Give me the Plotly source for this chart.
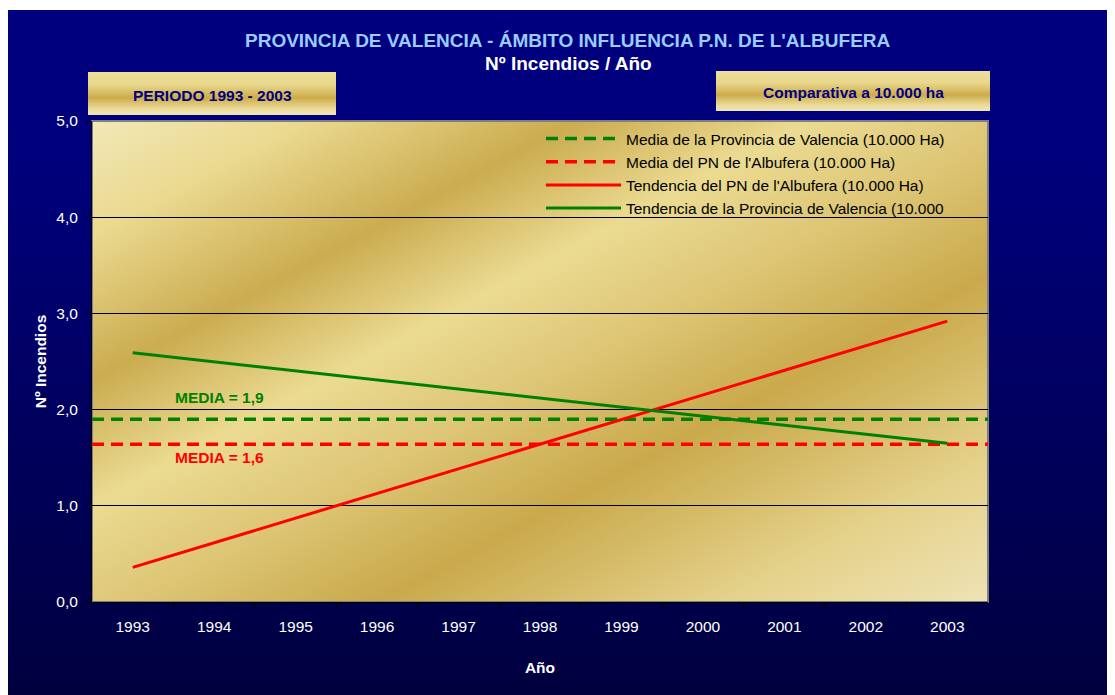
import base64
import plotly.graph_objects as go

# ---------------- data ----------------
years = [1993, 1994, 1995, 1996, 1997, 1998, 1999, 2000, 2001, 2002, 2003]
year_labels = [str(y) for y in years]
media_prov = 1.90          # Media de la Provincia de Valencia (10.000 Ha)
media_pn = 1.64            # Media del PN de l'Albufera (10.000 Ha)
trend_years = [1993, 2003]
trend_pn = [0.36, 2.92]    # Tendencia del PN de l'Albufera
trend_prov = [2.59, 1.65]  # Tendencia de la Provincia de Valencia
y_ticks = [0, 1, 2, 3, 4, 5]

names = ["Media de la Provincia de Valencia (10.000 Ha)",
         "Media del PN de l'Albufera (10.000 Ha)",
         "Tendencia del PN de l'Albufera (10.000 Ha)",
         "Tendencia de la Provincia de Valencia (10.000"]

GREEN = "#008000"
RED = "#FF0000"
FONT = "Liberation Sans, Arial, sans-serif"
FS = 15.5

OFF = 8  # page body margin offset
W, H = 1115, 695
L, T = 92 - OFF, 121 - OFF
PW, PH = 896, 481
R, B = W - L - PW, H - T - PH


def px_to_paper(x, y):
    """reference-screenshot pixel -> paper coords"""
    x, y = x - OFF, y - OFF
    return (x - L) / PW, (T + PH - y) / PH


def svg_uri(svg):
    return "data:image/svg+xml;base64," + base64.b64encode(svg.encode()).decode()


def grad_svg(stops, x1, y1, x2, y2):
    st = "".join(f'<stop offset="{o}" stop-color="{c}"/>' for o, c in stops)
    return svg_uri(
        '<svg xmlns="http://www.w3.org/2000/svg" width="100" height="100" '
        'viewBox="0 0 100 100" preserveAspectRatio="none">'
        f'<defs><linearGradient id="g" x1="{x1}" y1="{y1}" x2="{x2}" y2="{y2}">{st}</linearGradient></defs>'
        '<rect x="0" y="0" width="100" height="100" fill="url(#g)"/></svg>')


plot_stops = [(0, "#F2E8B8"), (0.12, "#EAD98F"), (0.27, "#CBAC50"), (0.40, "#EBDB92"),
              (0.53, "#DCC473"), (0.66, "#C9A94B"), (0.85, "#E4D18A"), (1, "#EFE3B5")]
box_stops = [(0, "#EEDF9C"), (0.3, "#E8D68A"), (0.6, "#CDAC4A"), (0.85, "#EBDA98"),
             (1, "#F0E6B8")]
navy_stops = [(0, "#000080"), (0.22, "#00007C"), (1, "#00003E")]


def img(source, x0, y0, x1, y1):
    px0, py0 = px_to_paper(x0, y0)
    px1, py1 = px_to_paper(x1, y1)
    return dict(source=source, xref="paper", yref="paper", x=px0, y=py0,
                sizex=px1 - px0, sizey=py0 - py1, sizing="stretch",
                xanchor="left", yanchor="top", layer="below")


def paper_text(x, y, text, color, size):
    px, py = px_to_paper(x, y)
    fig.add_annotation(xref="paper", yref="paper", x=px, y=py, text=text, showarrow=False,
                       xanchor="center", yanchor="middle",
                       font=dict(color=color, size=size, family=FONT))


x_lo, x_hi = years[0] - 0.5, years[-1] + 0.5

fig = go.Figure()
fig.add_trace(go.Scatter(x=[x_lo, x_hi], y=[media_prov, media_prov], mode="lines",
                         name=names[0], line=dict(color=GREEN, width=3.5, dash="12px,7px")))
fig.add_trace(go.Scatter(x=[x_lo, x_hi], y=[media_pn, media_pn], mode="lines",
                         name=names[1], line=dict(color=RED, width=3.5, dash="12px,7px")))
fig.add_trace(go.Scatter(x=trend_years, y=trend_pn, mode="lines", name=names[2],
                         line=dict(color=RED, width=3)))
fig.add_trace(go.Scatter(x=trend_years, y=trend_prov, mode="lines", name=names[3],
                         line=dict(color=GREEN, width=3)))

fmt = lambda v: f"{v:.1f}".replace(".", ",")
fig.add_annotation(x=years[1] + 0.06, y=media_prov + 0.23, text=f"<b>MEDIA = {fmt(media_prov)}</b>",
                   showarrow=False, xanchor="center", yanchor="middle",
                   font=dict(color=GREEN, size=FS, family=FONT))
fig.add_annotation(x=years[1] + 0.06, y=media_pn - 0.14, text=f"<b>MEDIA = {fmt(media_pn)}</b>",
                   showarrow=False, xanchor="center", yanchor="middle",
                   font=dict(color=RED, size=FS, family=FONT))

paper_text(212, 95, "<b>PERIODO 1993 - 2003</b>", "#000080", FS)
paper_text(853, 92, "<b>Comparativa a 10.000 ha</b>", "#000080", FS)
paper_text(568, 40, "<b>PROVINCIA DE VALENCIA - ÁMBITO INFLUENCIA P.N. DE L'ALBUFERA</b>", "#99CCFF", 19)
paper_text(568, 63, "<b>Nº Incendios / Año</b>", "white", 19)

images = [
    img(grad_svg(navy_stops, 0, 0, 0, 1), OFF, 10, W + OFF, H + OFF),
    img(grad_svg(plot_stops, 0, 0, 1, 1), 92, 121, 92 + PW, 121 + PH),
    img(grad_svg(box_stops, 0, 0, 0, 1), 88, 72, 336, 115),
    img(grad_svg(box_stops, 0, 0, 0, 1), 716, 71, 990, 111),
]

fig.add_shape(type="rect", xref="paper", yref="paper", x0=0, y0=0, x1=1, y1=1,
              line=dict(color="#7F7F7F", width=2), layer="below")

lx, ly = px_to_paper(541, 122)
fig.update_layout(
    width=W, height=H,
    margin=dict(l=L, r=R, t=T, b=B, pad=0),
    paper_bgcolor="white",
    plot_bgcolor="rgba(0,0,0,0)",
    images=images,
    separators=",.",
    showlegend=True,
    legend=dict(x=lx, y=ly, xanchor="left", yanchor="top", bgcolor="rgba(0,0,0,0)",
                font=dict(color="black", size=FS, family=FONT), itemwidth=75,
                tracegroupgap=0),
    xaxis=dict(range=[x_lo, x_hi], tickmode="array", tickvals=years, ticktext=year_labels,
               ticks="", showgrid=False, zeroline=False, showline=True, linecolor="black",
               linewidth=1, tickfont=dict(color="white", size=FS, family=FONT),
               ticklabelstandoff=10,
               minor=dict(tickvals=[y + 0.5 for y in years[:-1]], ticks="outside",
                          ticklen=5, tickcolor="black", showgrid=False),
               title=dict(text="<b>Año</b>", font=dict(color="white", size=FS, family=FONT),
                          standoff=28)),
    yaxis=dict(range=[0, 5], tickmode="array", tickvals=y_ticks, tickformat=".1f",
               ticks="outside", ticklen=5, tickcolor="black", ticklabelstandoff=5,
               showgrid=True, gridcolor="black", gridwidth=1, zeroline=False,
               showline=True, linecolor="black", linewidth=1,
               tickfont=dict(color="white", size=FS, family=FONT),
               title=dict(text="<b>Nº Incendios</b>", font=dict(color="white", size=FS, family=FONT),
                          standoff=5)),
)

fig.write_html("out.html")
